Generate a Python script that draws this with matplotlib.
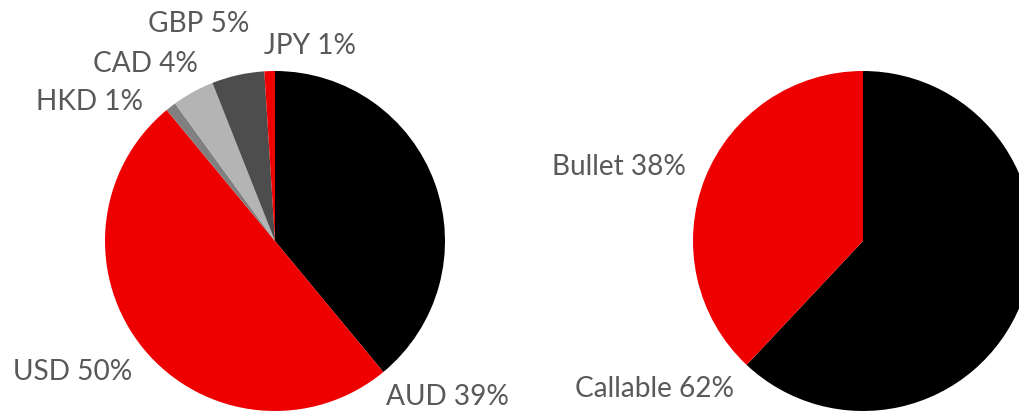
import matplotlib
matplotlib.use("Agg")
from matplotlib import pyplot as plt

# currency split
ccy_names = ["AUD", "USD", "HKD", "CAD", "GBP", "JPY"]
ccy_vals = [39, 50, 1, 4, 5, 1]
ccy_colors = ["#000000", "#ee0000", "#808080", "#b4b4b4", "#4d4d4d", "#ee0000"]
# label spots, in pie-radius units from the centre
ccy_lbl_pos = [(1.012, -0.918), (-1.188, -0.771), (-1.094, 0.818),
               (-0.765, 1.041), (-0.447, 1.276), (0.206, 1.147)]

# structure split
str_names = ["Callable", "Bullet"]
str_vals = [62, 38]
str_colors = ["#000000", "#ee0000"]
str_lbl_pos = [(-1.224, -0.871), (-1.435, 0.435)]

W, H = 1020, 411
fig = plt.figure(figsize=(W / 100, H / 100), dpi=100)
fig.patch.set_facecolor("white")

txt_kw = dict(color="#595959", fontsize=20.2, family=["Lato", "DejaVu Sans"],
              ha="center", va="center", clip_on=False)


def draw_pie(cx, cy, r, names, vals, colors, lbl_pos):
    ax = fig.add_axes([(cx - r) / W, (H - cy - r) / H, 2 * r / W, 2 * r / H])
    ax.pie(vals, colors=colors, startangle=90, counterclock=False, radius=1,
           wedgeprops=dict(linewidth=0))
    ax.set_xlim(-1, 1)
    ax.set_ylim(-1, 1)
    ax.set_aspect("equal")
    ax.axis("off")
    for n, v, (x, y) in zip(names, vals, lbl_pos):
        ax.text(x, y, "{} {}%".format(n, v), **txt_kw)
    return ax


draw_pie(275, 241, 170, ccy_names, ccy_vals, ccy_colors, ccy_lbl_pos)
draw_pie(863, 241, 170, str_names, str_vals, str_colors, str_lbl_pos)

fig.savefig("out.png", dpi=100)
